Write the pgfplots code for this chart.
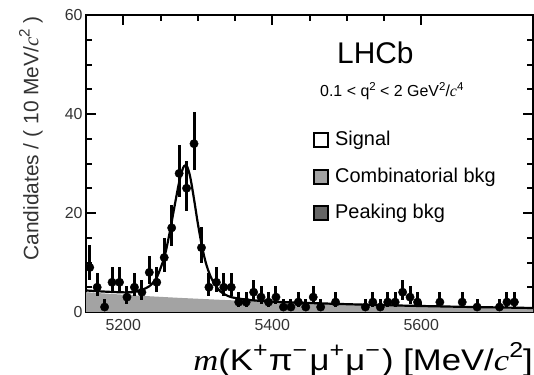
\documentclass[border=0pt]{standalone}
\usepackage{fontspec}
\setmainfont{Liberation Sans}
\newfontfamily\tnr{Liberation Serif}
\usepackage{graphicx}
\usepackage{pgfplots}
\pgfplotsset{compat=1.18}
\usepackage{pgfplotstable}

\newcommand{\itc}{{\tnr\itshape c}}
\newcommand{\sups}[1]{\raisebox{0.42em}{\scalebox{0.72}{#1}}}

\pgfplotstableread{
x y ep em
5155 9 4.50 2.54
5165 5 2.79 1.79
5175 1 1.62 0.62
5185 6 3.00 2.00
5195 6 3.00 2.00
5205 3 2.30 1.30
5215 5 2.79 1.79
5225 4 2.56 1.56
5235 8 3.37 2.37
5245 6 3.00 2.00
5255 11 3.85 2.85
5265 17 4.65 3.65
5275 28 5.82 4.82
5285 25 5.52 4.52
5295 34 6.35 5.35
5305 13 4.14 3.14
5315 5 2.79 1.79
5325 6 3.00 2.00
5335 5 2.79 1.79
5345 5 2.79 1.79
5355 2 2.06 1.06
5365 2 2.06 1.06
5375 4 2.56 1.56
5385 3 2.30 1.30
5395 2 2.06 1.06
5405 3 2.30 1.30
5415 1 1.62 0.62
5425 1 1.62 0.62
5435 2 2.06 1.06
5445 1 1.62 0.62
5455 3 2.30 1.30
5465 1 1.62 0.62
5485 2 2.06 1.06
5525 1 1.62 0.62
5535 2 2.06 1.06
5545 1 1.62 0.62
5555 2 2.06 1.06
5565 2 2.06 1.06
5575 4 2.56 1.56
5585 3 2.30 1.30
5595 2 2.06 1.06
5625 2 2.06 1.06
5655 2 2.06 1.06
5675 1 1.62 0.62
5705 1 1.62 0.62
5715 2 2.06 1.06
5725 2 2.06 1.06
}\datatab

\pgfplotstableread{
x y
5150 4.00
5175 3.74
5200 3.50
5225 3.27
5250 3.06
5275 2.86
5300 2.68
5325 2.50
5350 2.34
5400 2.05
5450 1.79
5500 1.56
5550 1.37
5600 1.20
5650 1.05
5700 0.92
5750 0.80
}\bkgtab

\pgfplotstableread{
x y
5150 4.35
5175 4.12
5200 3.97
5215 4.05
5225 4.50
5235 5.20
5245 7.00
5255 11.0
5260 14.3
5265 18.2
5270 22.3
5275 26.2
5280 29.0
5283 29.6
5286 29.3
5290 27.2
5295 22.8
5300 18.0
5305 13.8
5310 10.4
5315 8.0
5320 6.3
5325 5.1
5330 4.2
5337 3.5
5345 3.0
5360 2.6
5375 2.35
5400 2.10
5450 1.82
5500 1.58
5550 1.38
5600 1.21
5650 1.06
5700 0.93
5750 0.81
}\totaltab

\begin{document}
\begin{tikzpicture}
\useasboundingbox (-86bp,-63bp) rectangle (448bp,312bp);
\begin{axis}[
  at={(0,0)}, anchor=south west,
  scale only axis, width=447bp, height=297bp,
  xmin=5150, xmax=5750, ymin=0, ymax=60,
  xtick={5200,5400,5600}, ytick={0,20,40,60},
  minor x tick num=3, minor y tick num=3,
  tick align=inside,
  major tick length=10bp, minor tick length=6bp,
  axis line style={line width=2bp},
  every tick/.append style={black, line width=2bp},
  tick label style={font=\fontsize{16}{16}\selectfont, text=black!80},
  /pgf/number format/assume math mode=true,
  /pgf/number format/1000 sep={},
  xticklabel style={yshift=-3.5bp},
]
\addplot[draw=none, fill=gray!72] table[x=x,y=y] {\bkgtab} \closedcycle;
\addplot[black, line width=2.2bp, smooth] table[x=x,y=y] {\totaltab};
\addplot[only marks, mark=*, mark size=4.2bp, black,
  error bars/.cd, y dir=both, y explicit, error mark=none,
  error bar style={line width=3bp}]
  table[x=x, y=y, y error plus=ep, y error minus=em] {\datatab};
\end{axis}
% texts
\node[anchor=west, inner sep=0pt, font=\fontsize{30}{30}\selectfont] at (251bp,259bp) {LHCb};
\node[anchor=west, inner sep=0pt, font=\fontsize{16}{16}\selectfont] at (234bp,221bp)
  {0.1 < q\sups{2} < 2 GeV\sups{2}/\itc\sups{4}};
% legend
\draw[line width=1.8bp, fill=white] (228bp,165bp) rectangle (242bp,179bp);
\draw[line width=1.8bp, fill=gray!72] (228bp,128bp) rectangle (242bp,142bp);
\draw[line width=1.8bp, fill=black!60] (228bp,92bp) rectangle (242bp,106bp);
\node[anchor=west, inner sep=0pt, font=\fontsize{20}{20}\selectfont] at (249bp,172bp) {Signal};
\node[anchor=west, inner sep=0pt, font=\fontsize{20}{20}\selectfont] at (249bp,135bp) {Combinatorial bkg};
\node[anchor=west, inner sep=0pt, font=\fontsize{20}{20}\selectfont] at (249bp,99bp) {Peaking bkg};
% axis labels
\node[anchor=base east, inner sep=0pt, font=\fontsize{30}{30}\selectfont] at (447bp,-58bp)
  {\scalebox{1.16}[1]{{\tnr\itshape m}(K\sups{+}\kern1pt π\sups{−}\kern2pt μ\sups{+}\kern1pt μ\sups{−}\kern2pt) [MeV/\itc\sups{2}]}};
\node[rotate=90, anchor=east, inner sep=0pt, font=\fontsize{21}{21}\selectfont, text=black!80] at (-55bp,296bp)
  {Candidates / ( 10 MeV/\itc\sups{2} )};
\end{tikzpicture}
\end{document}
